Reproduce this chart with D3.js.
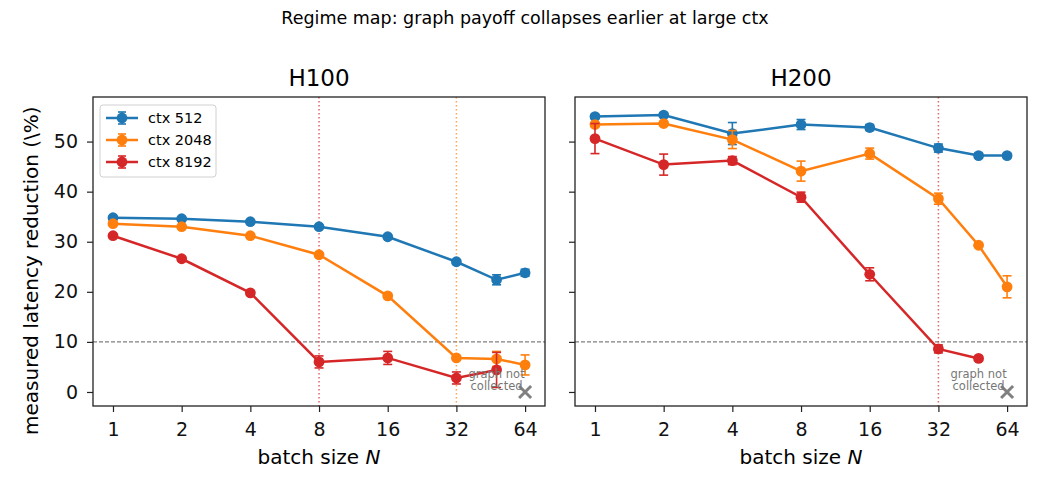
<!DOCTYPE html>
<html>
<head>
<meta charset="utf-8">
<script src="https://cdn.jsdelivr.net/npm/d3@7"></script>
<style>
  body { margin: 0; background: #fff; }
  text { font-family: "DejaVu Sans", sans-serif; }
</style>
</head>
<body>
<div class="chart"></div>
<script>
// data
const batchSizes = [1, 2, 4, 8, 16, 32, 48, 64];
const xTicks = [1, 2, 4, 8, 16, 32, 64];
const yTicks = [0, 10, 20, 30, 40, 50];
const ctxLabels = ['ctx 512', 'ctx 2048', 'ctx 8192'];
const colors = ['#1f77b4', '#ff7f0e', '#d62728'];

const h100Ctx512 = [34.8, 34.6, 34.0, 33.0, 31.0, 26.0, 22.4, 23.8];
const h100Ctx512Err = [0.3, 0.3, 0.3, 0.3, 0.3, 0.4, 1.0, 0.7];
const h100Ctx2048 = [33.6, 33.0, 31.2, 27.4, 19.2, 6.8, 6.6, 5.4];
const h100Ctx2048Err = [0.3, 0.3, 0.3, 0.4, 0.4, 0.4, 1.5, 2.0];
const h100Ctx8192 = [31.2, 26.6, 19.8, 6.0, 6.8, 2.8, 4.4];
const h100Ctx8192Err = [0.3, 0.3, 0.4, 1.2, 1.3, 1.2, 3.5];

const h200Ctx512 = [55.0, 55.3, 51.6, 53.4, 52.8, 48.7, 47.2, 47.2];
const h200Ctx512Err = [0.4, 0.4, 2.2, 1.0, 0.6, 0.8, 0.5, 0.4];
const h200Ctx2048 = [53.4, 53.6, 50.4, 44.1, 47.6, 38.6, 29.3, 21.0];
const h200Ctx2048Err = [0.4, 0.4, 1.8, 2.0, 1.1, 1.1, 0.4, 2.2];
const h200Ctx8192 = [50.6, 45.4, 46.2, 38.9, 23.5, 8.6, 6.7];
const h200Ctx8192Err = [3.0, 2.1, 0.8, 1.0, 1.3, 0.8, 0.4];

const thresholdY = 10;
const missingBatch = 64;   // ctx 8192 graph not collected
const missingLabelBatch = 48;
const h100VLines = [{x: 8, color: colors[2]}, {x: 32, color: colors[1]}];
const h200VLines = [{x: 32, color: colors[2]}];

const FULL_WIDTH = 1050;
const FULL_HEIGHT = 495;
const plotTop = 97;
const height = 309;
const width = 452;
const panelLefts = [93, 575];
const BACKSLASH = String.fromCharCode(92);

const svg = d3.select('.chart')
  .append('svg')
    .attr('width', FULL_WIDTH)
    .attr('height', FULL_HEIGHT);

svg.append('text')
  .attr('x', 525).attr('y', 24)
  .attr('text-anchor', 'middle')
  .style('font-size', '17.5px')
  .text('Regime map: graph payoff collapses earlier at large ctx');

const yScale = d3.scaleLinear().domain([-2.8, 58.9]).range([height, 0]);

function zip (ys, errs) {
  return ys.map((y, i) => ({x: batchSizes[i], y, e: errs[i]}));
}

function drawPanel (left, title, series, vlines, showYLabels) {
  const g = svg.append('g').attr('transform', `translate(${left}, ${plotTop})`);
  const xScale = d3.scaleLog().base(2)
    .domain([Math.pow(2, -0.291), Math.pow(2, 6.29)])
    .range([0, width]);

  // reference lines
  g.append('line')
    .attr('x1', 0).attr('x2', width)
    .attr('y1', yScale(thresholdY)).attr('y2', yScale(thresholdY))
    .attr('stroke', '#808080').attr('stroke-width', 1.1)
    .attr('stroke-dasharray', '4,2');
  vlines.forEach(v => {
    g.append('line')
      .attr('x1', xScale(v.x)).attr('x2', xScale(v.x))
      .attr('y1', 0).attr('y2', height)
      .attr('stroke', v.color).attr('stroke-opacity', 0.7)
      .attr('stroke-width', 1.5)
      .attr('stroke-dasharray', '1.5,2.5');
  });

  const line = d3.line().x(d => xScale(d.x)).y(d => yScale(d.y));

  series.forEach((s, i) => {
    const sg = g.append('g');
    sg.append('path')
      .datum(s)
      .attr('d', line)
      .attr('fill', 'none')
      .attr('stroke', colors[i])
      .attr('stroke-width', 2.5);
    sg.selectAll('circle')
      .data(s)
      .enter().append('circle')
      .attr('cx', d => xScale(d.x))
      .attr('cy', d => yScale(d.y))
      .attr('r', 5.4)
      .attr('fill', colors[i]);
    const eb = sg.selectAll('g.err')
      .data(s)
      .enter().append('g');
    eb.append('line')
      .attr('x1', d => xScale(d.x)).attr('x2', d => xScale(d.x))
      .attr('y1', d => yScale(d.y - d.e)).attr('y2', d => yScale(d.y + d.e))
      .attr('stroke', colors[i]).attr('stroke-width', 1.6);
    [-1, 1].forEach(sign => {
      eb.append('line')
        .attr('x1', d => xScale(d.x) - 4.5).attr('x2', d => xScale(d.x) + 4.5)
        .attr('y1', d => yScale(d.y + sign * d.e))
        .attr('y2', d => yScale(d.y + sign * d.e))
        .attr('stroke', colors[i]).attr('stroke-width', 1.6);
    });
  });

  // missing point marker
  const mx = xScale(missingBatch);
  const my = yScale(0);
  g.append('path')
    .attr('d', `M${mx - 6},${my - 6}L${mx + 6},${my + 6}M${mx - 6},${my + 6}L${mx + 6},${my - 6}`)
    .attr('stroke', '#808080').attr('stroke-width', 3);
  const note = g.append('text')
    .attr('x', xScale(missingLabelBatch))
    .attr('text-anchor', 'middle')
    .attr('fill', '#777')
    .style('font-size', '11.5px');
  note.append('tspan').attr('x', xScale(missingLabelBatch)).attr('y', 281).text('graph not');
  note.append('tspan').attr('x', xScale(missingLabelBatch)).attr('y', 293).text('collected');

  // axes
  const xAxis = g.append('g')
    .attr('transform', `translate(0, ${height})`)
    .call(d3.axisBottom(xScale).tickValues(xTicks).tickFormat(d3.format('d')).tickSize(6).tickPadding(10.5));
  const yAxis = g.append('g')
    .call(d3.axisLeft(yScale).tickValues(yTicks).tickSize(6).tickPadding(9)
      .tickFormat(showYLabels ? d3.format('d') : ''));
  [xAxis, yAxis].forEach(a => {
    a.select('.domain').remove();
    a.selectAll('.tick line').attr('stroke', '#222').attr('stroke-width', 1.2);
    a.selectAll('.tick text')
      .style('font-family', '"DejaVu Sans", sans-serif')
      .style('font-size', '19px')
      .attr('fill', '#111');
  });

  g.append('rect')
    .attr('width', width).attr('height', height)
    .attr('fill', 'none')
    .attr('stroke', '#222').attr('stroke-width', 1.3);

  g.append('text')
    .attr('x', width / 2).attr('y', -11)
    .attr('text-anchor', 'middle')
    .style('font-size', '23px')
    .text(title);

  const xl = g.append('text')
    .attr('x', width / 2).attr('y', height + 58)
    .attr('text-anchor', 'middle')
    .style('font-size', '20px');
  xl.append('tspan').text('batch size ');
  xl.append('tspan').style('font-style', 'italic').text('N');

  return g;
}

const h100 = drawPanel(panelLefts[0], 'H100', [
  zip(h100Ctx512, h100Ctx512Err),
  zip(h100Ctx2048, h100Ctx2048Err),
  zip(h100Ctx8192, h100Ctx8192Err)
], h100VLines, true);

drawPanel(panelLefts[1], 'H200', [
  zip(h200Ctx512, h200Ctx512Err),
  zip(h200Ctx2048, h200Ctx2048Err),
  zip(h200Ctx8192, h200Ctx8192Err)
], h200VLines, false);

svg.append('text')
  .attr('transform', 'translate(38, 435) rotate(-90)')
  .attr('text-anchor', 'start')
  .style('font-size', '20px')
  .text('measured latency reduction (' + BACKSLASH + '%)');

// legend
const legend = h100.append('g').attr('transform', 'translate(7, 8)');
legend.append('rect')
  .attr('width', 116).attr('height', 72)
  .attr('rx', 3)
  .attr('fill', '#fff').attr('fill-opacity', 0.8)
  .attr('stroke', '#d0d0d0').attr('stroke-width', 1);
ctxLabels.forEach((label, i) => {
  const row = legend.append('g').attr('transform', `translate(0, ${13 + i * 22})`);
  row.append('line').attr('x1', 6).attr('x2', 38)
    .attr('stroke', colors[i]).attr('stroke-width', 2.5);
  row.append('line').attr('x1', 22).attr('x2', 22).attr('y1', -6).attr('y2', 6)
    .attr('stroke', colors[i]).attr('stroke-width', 1.6);
  [-6, 6].forEach(dy => row.append('line')
    .attr('x1', 18).attr('x2', 26).attr('y1', dy).attr('y2', dy)
    .attr('stroke', colors[i]).attr('stroke-width', 1.6));
  row.append('circle').attr('cx', 22).attr('r', 5.4).attr('fill', colors[i]);
  row.append('text').attr('x', 48).attr('y', 5)
    .style('font-size', '14.5px')
    .text(label);
});
</script>
</body>
</html>
